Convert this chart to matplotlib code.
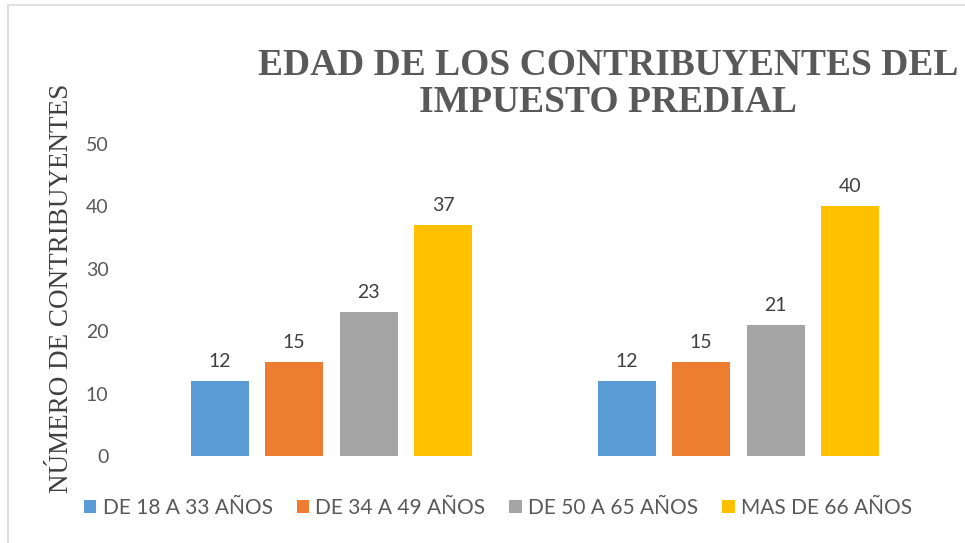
import matplotlib
matplotlib.use('Agg')
import matplotlib.pyplot as plt
from matplotlib.patches import Rectangle
import numpy as np

groups = ["Grupo 1", "Grupo 2"]
series = ["DE 18 A 33 AÑOS", "DE 34 A 49 AÑOS", "DE 50 A 65 AÑOS", "MAS DE 66 AÑOS"]
values = [
    [12, 12],
    [15, 15],
    [23, 21],
    [37, 40],
]
colors = ['#5B9BD5', '#ED7D31', '#A5A5A5', '#FFC000']

sans = ['Lato', 'DejaVu Sans']

fig = plt.figure(figsize=(9.65, 5.43), dpi=100)
ax = fig.add_axes([0.1326, 0.1602, 0.8436, 0.5746])

# light frame round the chart
fig.patches.append(Rectangle((8 / 965, -0.05), 1.1, 1 - 5 / 543 + 0.05,
                             transform=fig.transFigure, fill=False,
                             edgecolor='#D9D9D9', linewidth=1.2))

x = np.arange(len(groups))
width = 0.1425
step = 0.183
for i, (name, vals) in enumerate(zip(series, values)):
    pos = x + (i - 1.5) * step
    bars = ax.bar(pos, vals, width, color=colors[i], label=name)
    for b, v in zip(bars, vals):
        ax.annotate(str(v), (b.get_x() + b.get_width() / 2, v),
                    xytext=(0, 8), textcoords='offset points',
                    ha='center', va='bottom', fontsize=14,
                    color='#404040', family=sans)

ax.set_xlim(-0.5, 1.5)
ax.set_ylim(0, 50)
ax.set_yticks(range(0, 51, 10))
ax.set_xticks([])
for s in ax.spines.values():
    s.set_visible(False)
ax.tick_params(axis='y', length=0, labelsize=14, labelcolor='#595959', pad=14)
for lab in ax.get_yticklabels():
    lab.set_family(sans)

fig.text(62 / 965, 1 - 288 / 543, 'NÚMERO DE CONTRIBUYENTES', rotation=90,
         ha='center', va='center', fontsize=19.5, color='#404040',
         family='Liberation Serif')

fig.text(608 / 965, 1 - 84 / 543, 'EDAD DE LOS CONTRIBUYENTES DEL\nIMPUESTO PREDIAL',
         ha='center', va='center', fontsize=27, fontweight='bold',
         color='#595959', family='Liberation Serif', linespacing=1.1)

fig.legend(loc='center', bbox_to_anchor=(498 / 965, 1 - 508 / 543), ncol=4,
           frameon=False, prop={'family': sans, 'size': 15},
           labelcolor='#595959', handlelength=0.6, handleheight=0.6,
           handletextpad=0.3, columnspacing=1.15)

plt.savefig('out.png', dpi=100)
